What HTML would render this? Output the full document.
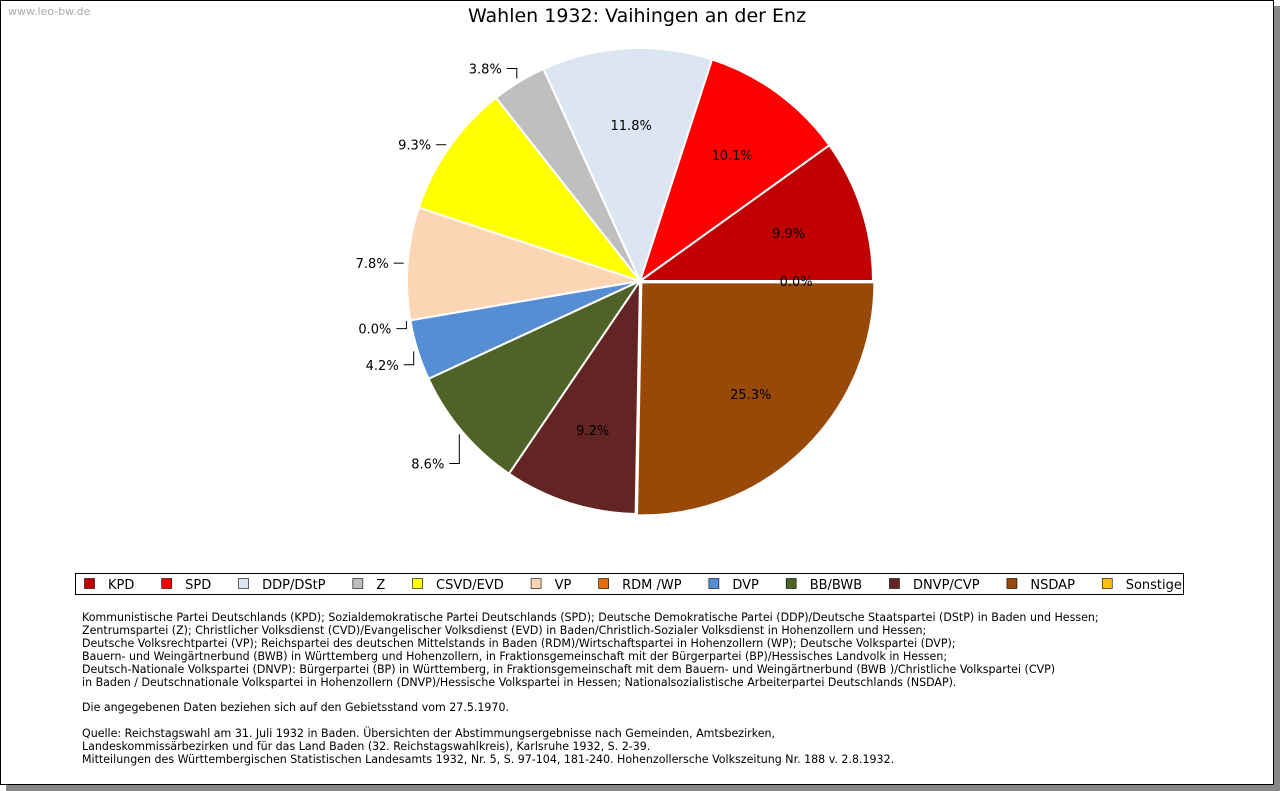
<!DOCTYPE html>
<html><head><meta charset="utf-8"><style>
body{margin:0;background:#fff;width:1280px;height:791px;overflow:hidden;font-family:"DejaVu Sans","Liberation Sans",sans-serif}
#frame{position:absolute;left:0;top:0;width:1272px;height:783px;border:1px solid #000;box-shadow:6px 6px 0 #888;background:#fff}
#notes{position:absolute;left:82px;top:612px;font-size:11.05px;line-height:12.9px;color:#000;white-space:pre}
</style></head><body>
<div id="frame"></div>
<svg id="chart" width="1280" height="791" style="position:absolute;left:0;top:0">
<text x="8" y="15" font-size="11" fill="#aaa" font-family="DejaVu Sans, sans-serif">www.leo-bw.de</text>
<text x="637" y="22" font-size="19" text-anchor="middle" font-family="DejaVu Sans, sans-serif">Wahlen 1932: Vaihingen an der Enz</text>
<g id="slices"></g><g id="labels"></g>
<rect x="75.5" y="573.5" width="1108" height="21" fill="#fff" stroke="#000"/>
<g id="legend"></g>
</svg>
<div id="notes">Kommunistische Partei Deutschlands (KPD); Sozialdemokratische Partei Deutschlands (SPD); Deutsche Demokratische Partei (DDP)/Deutsche Staatspartei (DStP) in Baden und Hessen;
Zentrumspartei (Z); Christlicher Volksdienst (CVD)/Evangelischer Volksdienst (EVD) in Baden/Christlich-Sozialer Volksdienst in Hohenzollern und Hessen;
Deutsche Volksrechtpartei (VP); Reichspartei des deutschen Mittelstands in Baden (RDM)/Wirtschaftspartei in Hohenzollern (WP); Deutsche Volkspartei (DVP);
Bauern- und Weingärtnerbund (BWB) in Württemberg und Hohenzollern, in Fraktionsgemeinschaft mit der Bürgerpartei (BP)/Hessisches Landvolk in Hessen;
Deutsch-Nationale Volkspartei (DNVP): Bürgerpartei (BP) in Württemberg, in Fraktionsgemeinschaft mit dem Bauern- und Weingärtnerbund (BWB )/Christliche Volkspartei (CVP)
in Baden / Deutschnationale Volkspartei in Hohenzollern (DNVP)/Hessische Volkspartei in Hessen; Nationalsozialistische Arbeiterpartei Deutschlands (NSDAP).

Die angegebenen Daten beziehen sich auf den Gebietsstand vom 27.5.1970.

Quelle: Reichstagswahl am 31. Juli 1932 in Baden. Übersichten der Abstimmungsergebnisse nach Gemeinden, Amtsbezirken,
Landeskommissärbezirken und für das Land Baden (32. Reichstagswahlkreis), Karlsruhe 1932, S. 2-39.
Mitteilungen des Württembergischen Statistischen Landesamts 1932, Nr. 5, S. 97-104, 181-240. Hohenzollersche Volkszeitung Nr. 188 v. 2.8.1932.</div>
<script>
const parties=["KPD","SPD","DDP/DStP","Z","CSVD/EVD","VP","RDM /WP","DVP","BB/BWB","DNVP/CVP","NSDAP","Sonstige"];
const shares=[9.9,10.1,11.8,3.8,9.3,7.8,0.0,4.2,8.6,9.2,25.3,0.0];
const colors=["#c00000","#ff0000","#dce6f2","#bfbfbf","#ffff00","#fcd5b5","#e46c0a","#558ed5","#4f6228","#632523","#984807","#ffc000"];
const outside=[false,false,false,true,true,true,true,true,true,false,false,false];
const NS="http://www.w3.org/2000/svg";
const cx=640,cy=281,R=233;
const total=shares.reduce((a,b)=>a+b,0);
function pt(a,r,ox,oy){return [ox+r*Math.cos(a),oy-r*Math.sin(a)];}
const gS=document.getElementById('slices'),gL=document.getElementById('labels'),gLeg=document.getElementById('legend');
let acc=0;
let lx=84;
shares.forEach((v,i)=>{
  const a0=acc/total*2*Math.PI,a1=(acc+v)/total*2*Math.PI,am=(a0+a1)/2;acc+=v;
  let ox=cx,oy=cy;
  if(parties[i]==="NSDAP"){ox+=2*Math.cos(am);oy-=2*Math.sin(am);}
  if(v>0){
    const p0=pt(a0,R,ox,oy),p1=pt(a1,R,ox,oy);
    const path=document.createElementNS(NS,'path');
    path.setAttribute('d',`M${ox},${oy}L${p0[0]},${p0[1]}A${R},${R} 0 ${(a1-a0)>Math.PI?1:0} 0 ${p1[0]},${p1[1]}Z`);
    path.setAttribute('fill',colors[i]);path.setAttribute('stroke','#fff');path.setAttribute('stroke-width','2');
    
    
    gS.appendChild(path);
  }
  const txt=document.createElementNS(NS,'text');
  
  
  txt.setAttribute('font-size','13');txt.textContent=v.toFixed(1)+'%';
  if(!outside[i]){
    const p=pt(am,R*0.67,ox,oy);
    txt.setAttribute('x',p[0]);txt.setAttribute('y',p[1]+5);txt.setAttribute('text-anchor','middle');
  }else{
    const e=pt(am,R+4,cx,cy);
    const s=Math.sin(am);
    const dy=s>0.8?-10:(s<0?-s*45:0);
    const ly=e[1]+dy;
    const line=document.createElementNS(NS,'polyline');
    line.setAttribute('points',`${e[0]},${e[1]} ${e[0]},${ly} ${e[0]-10},${ly}`);
    line.setAttribute('fill','none');line.setAttribute('stroke','#000');
    
    
    gL.appendChild(line);
    txt.setAttribute('x',e[0]-15);txt.setAttribute('y',ly+5);txt.setAttribute('text-anchor','end');
  }
  gL.appendChild(txt);
  // legend
  const sq=document.createElementNS(NS,'rect');
  sq.setAttribute('x',lx+0.5);sq.setAttribute('y',578.5);sq.setAttribute('width',10);sq.setAttribute('height',10);
  sq.setAttribute('fill',colors[i]);sq.setAttribute('stroke','#000');sq.setAttribute('stroke-width','0.6');
  
  
  gLeg.appendChild(sq);
  const lt=document.createElementNS(NS,'text');
  lt.setAttribute('x',lx+24);lt.setAttribute('y',589);lt.setAttribute('font-size','13');lt.textContent=parties[i];
  
  
  gLeg.appendChild(lt);
  lx+=24+lt.getComputedTextLength()+26.8;
});
</script>
</body></html>
